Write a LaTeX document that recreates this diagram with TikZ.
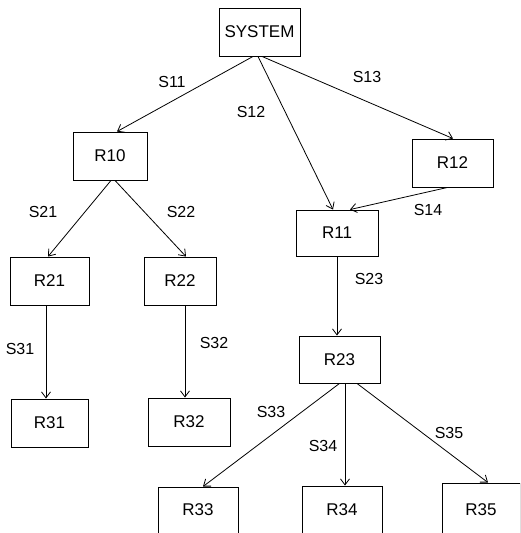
\documentclass[tikz,border=0pt]{standalone}
\usepackage{fontspec}
\setmainfont{Liberation Sans}
\usetikzlibrary{arrows.meta}
\begin{document}
\begin{tikzpicture}[x=1pt,y=-1pt,
  box/.style={draw,line width=0.9pt,minimum width=80pt,minimum height=47pt,inner sep=0pt,font=\fontsize{17}{19}\selectfont},
  lbl/.style={inner sep=0pt,font=\fontsize{16}{18}\selectfont},
  conn/.style={line width=0.8pt,-{Straight Barb[length=6pt,width=9pt]}}]
\useasboundingbox (0,0) rectangle (520,533);
\clip (0,0) rectangle (520,533);
% boxes
\node[box,minimum width=81pt,minimum height=48pt,font=\fontsize{17}{19}\selectfont] (sys) at (259.5,32) {SYSTEM};
\node[box,minimum width=74pt,minimum height=48pt] (r10) at (110,156) {R10};
\node[box,minimum width=81pt,minimum height=48pt] (r12) at (452.5,163) {R12};
\node[box,minimum width=82pt,minimum height=46pt] (r11) at (337,233) {R11};
\node[box,minimum width=79pt,minimum height=48pt] (r21) at (49.5,281) {R21};
\node[box,minimum width=72pt,minimum height=48pt] (r22) at (180,281) {R22};
\node[box,minimum width=77pt,minimum height=48pt] (r31) at (49.5,423) {R31};
\node[box,minimum width=82pt,minimum height=48pt] (r32) at (189,422) {R32};
\node[box,minimum width=81pt,minimum height=47pt] (r23) at (339.5,359.5) {R23};
\node[box,minimum width=80pt,minimum height=46pt] (r33) at (198,510) {R33};
\node[box,minimum width=80pt,minimum height=48pt] (r34) at (342,510) {R34};
\node[box,minimum width=78pt,minimum height=54pt] (r35) at (481,510) {R35};
% connectors
\draw[conn] ([xshift=-6.5pt]sys.south) -- ([xshift=7pt]r10.north);
\draw[conn] ([xshift=-1.5pt]sys.south) -- ([xshift=-4pt]r11.north);
\draw[conn] ([xshift=2.5pt]sys.south) -- ([xshift=0.5pt]r12.north);
\draw[conn] ([xshift=-5pt]r12.south) -- ([xshift=13pt]r11.north);
\draw[conn] ([xshift=1pt]r10.south) -- ([xshift=-1.5pt]r21.north);
\draw[conn] ([xshift=5pt]r10.south) -- ([xshift=6pt]r22.north);
\draw[conn] ([xshift=-3.5pt]r21.south) -- ([xshift=-3.5pt]r31.north);
\draw[conn] ([xshift=5pt]r22.south) -- ([xshift=-4pt]r32.north);
\draw[conn] (r11.south) -- ([xshift=-2.5pt]r23.north);
\draw[conn] (r23.south) -- ([xshift=5pt]r33.north);
\draw[conn] ([xshift=5.5pt]r23.south) -- ([xshift=3pt]r34.north);
\draw[conn] ([xshift=17.5pt]r23.south) -- ([xshift=7pt]r35.north);
% labels
\node[lbl] (s11) at (172,82) {S11};
\node[lbl] (s12) at (251,112) {S12};
\node[lbl] (s13) at (367,77) {S13};
\node[lbl] (s14) at (428,210) {S14};
\node[lbl] (s21) at (43,212) {S21};
\node[lbl] (s22) at (181,212) {S22};
\node[lbl] (s31) at (20,349) {S31};
\node[lbl] (s32) at (214,343) {S32};
\node[lbl] (s23) at (369,279) {S23};
\node[lbl] (s33) at (271,412) {S33};
\node[lbl] (s34) at (323,446) {S34};
\node[lbl] (s35) at (449,433) {S35};
\end{tikzpicture}
\end{document}
